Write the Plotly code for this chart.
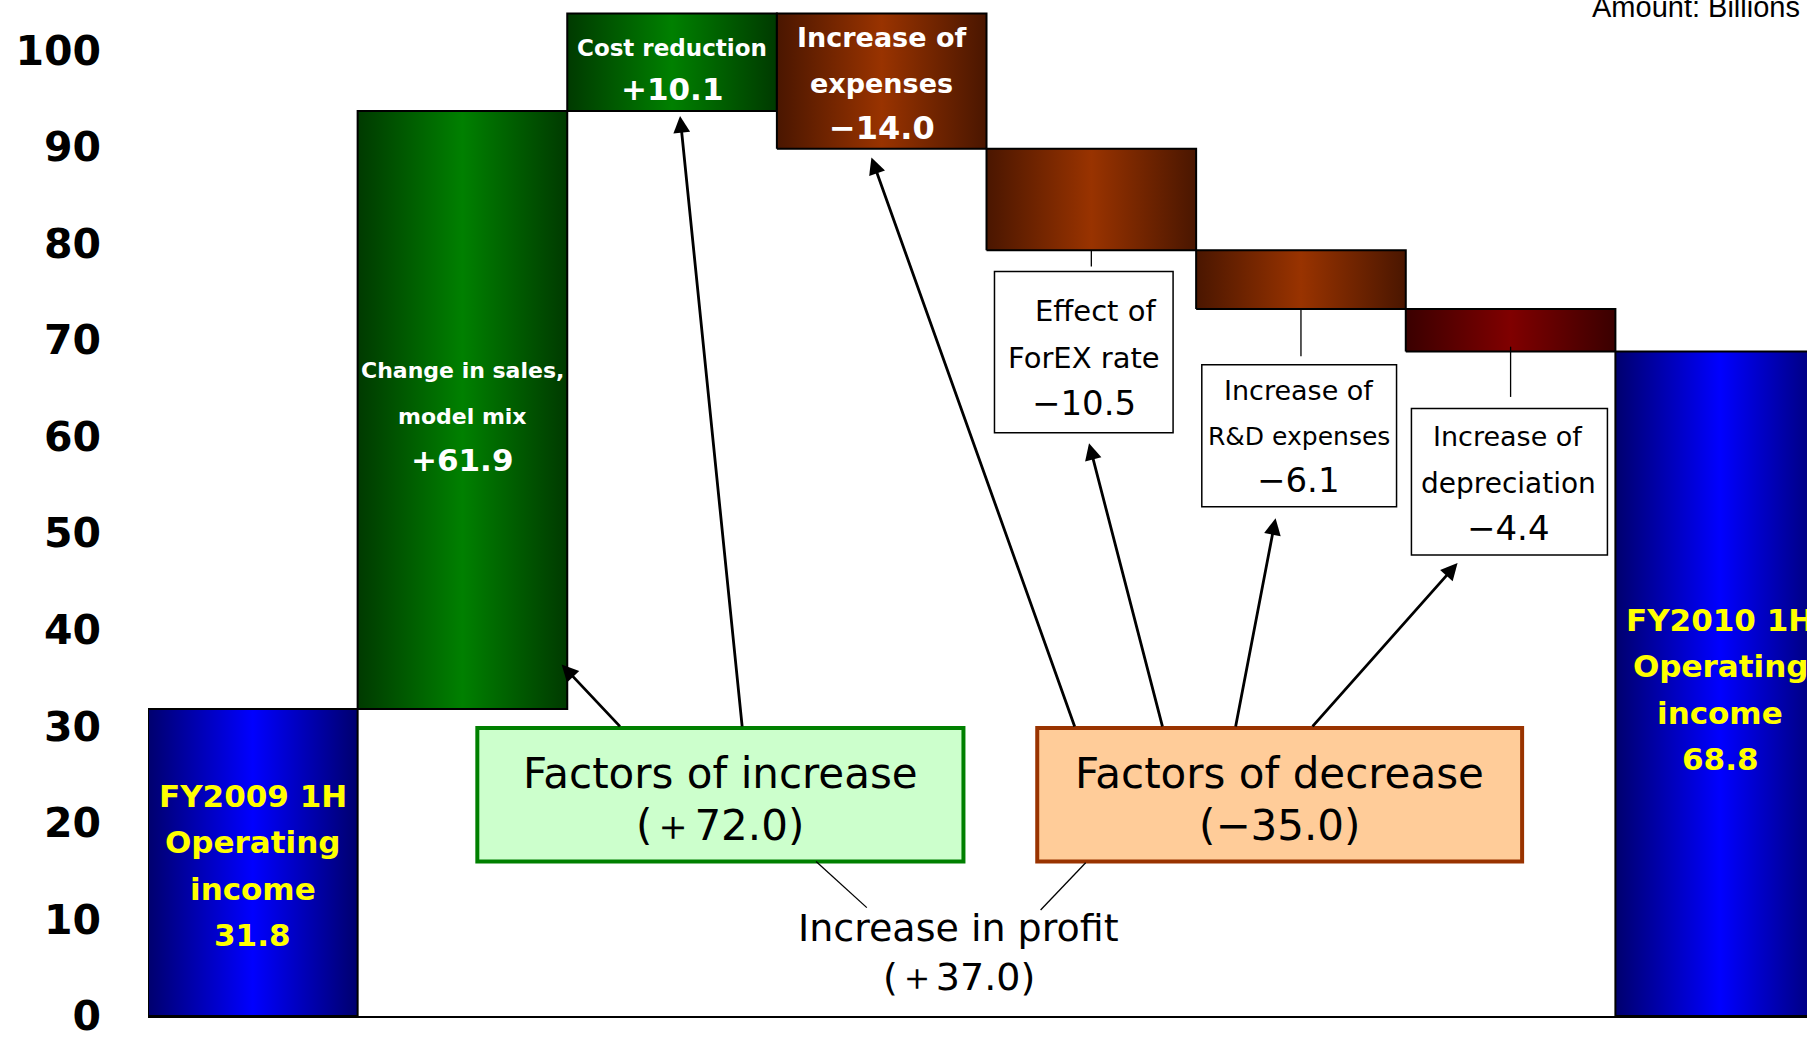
import plotly.graph_objects as go

# ---------------- data ----------------
categories = ["FY2009 1H", "Change in sales, model mix", "Cost reduction",
              "Increase of expenses", "Effect of ForEX rate",
              "Increase of R&D expenses", "Increase of depreciation", "FY2010 1H"]
start_value = 31.8
deltas = [61.9, 10.1, -14.0, -10.5, -6.1, -4.4]
end_value = 68.8
increase_total = 72.0
decrease_total = -35.0
profit_change = 37.0
y_ticks = [0, 10, 20, 30, 40, 50, 60, 70, 80, 90, 100]


def fmt(v):
    s = f"{v:+.1f}"
    return s.replace("-", "\u2212")


# waterfall geometry derived from data
bases, tops = [0.0], [start_value]
running = start_value
for d in deltas:
    nxt = running + d
    bases.append(min(running, nxt))
    tops.append(max(running, nxt))
    running = nxt
bases.append(0.0)
tops.append(end_value)

BLUE = [[0, "#00006e"], [0.5, "#0000ff"], [1, "#00006e"]]
GREEN = [[0, "#003a00"], [0.5, "#008000"], [1, "#003a00"]]
BROWN = [[0, "#4a1600"], [0.5, "#993300"], [1, "#4a1600"]]
DRED = [[0, "#3a0000"], [0.5, "#800000"], [1, "#3a0000"]]
scales = [BLUE, GREEN, GREEN, BROWN, BROWN, BROWN, DRED, BLUE]

fig = go.Figure()
for i, (b, t) in enumerate(zip(bases, tops)):
    fig.add_trace(go.Scatter(
        x=[i - 0.5, i + 0.5, i + 0.5, i - 0.5, i - 0.5],
        y=[b, b, t, t, b],
        mode="lines", fill="toself",
        fillgradient=dict(type="horizontal", colorscale=scales[i]),
        line=dict(color="black", width=2),
        name=categories[i], showlegend=False, hoverinfo="skip"))

FONT = "DejaVu Sans"
anns = []


def txt(x, y, text, size, color="black", bold=False, xref="x", yref="y", xanchor="center", yanchor="middle"):
    anns.append(dict(x=x, y=y, xref=xref, yref=yref, text=(f"<b>{text}</b>" if bold else text),
                     showarrow=False, xanchor=xanchor, yanchor=yanchor,
                     font=dict(family=FONT, size=size, color=color)))


# start / end bars
Y = "#ffff00"
for yy, t in [(22.79, "FY2009 1H"), (18.02, "Operating"), (13.13, "income"),
              (8.35, f"{start_value:.1f}")]:
    txt(0, yy, t, 31, Y, True)
for yy, t in [(41.05, "FY2010 1H"), (36.28, "Operating"), (31.38, "income"),
              (26.61, f"{end_value:.1f}")]:
    txt(7, yy, t, 31, Y, True)

# in-bar labels
W = "white"
txt(1, 66.83, "Change in sales,", 22, W, True)
txt(1, 62.05, "model mix", 22, W, True)
txt(1, 57.52, fmt(deltas[0]), 31, W, True)
txt(2, 100.24, "Cost reduction", 23, W, True)
txt(2, 95.94, fmt(deltas[1]), 31, W, True)
txt(3, 101.31, "Increase of", 27, W, True)
txt(3, 96.54, "expenses", 27, W, True)
txt(3, 91.95, fmt(deltas[2]), 32, W, True)

shapes = []


def rect(x0, x1, y0, y1, line, width, fill):
    shapes.append(dict(type="rect", xref="x", yref="y", x0=x0, x1=x1, y0=y0, y1=y1,
                       line=dict(color=line, width=width), fillcolor=fill, layer="above"))


def seg(x0, y0, x1, y1, width=1.3):
    shapes.append(dict(type="line", xref="x", yref="y", x0=x0, y0=y0, x1=x1, y1=y1,
                       line=dict(color="black", width=width), layer="above"))


# callout boxes for small decreases
rect(3.538, 4.390, 60.38, 77.09, "black", 1.5, "white")
rect(4.527, 5.456, 52.74, 67.42, "black", 1.5, "white")
rect(5.527, 6.462, 47.73, 62.89, "black", 1.5, "white")
seg(4.0, bases[4], 4.0, 77.6)
seg(5.0, bases[5], 5.0, 68.3)
seg(6.0, bases[6] + 0.5, 6.0, 64.1)

txt(4.02, 73.03, "Effect of", 29)
txt(3.964, 68.14, "ForEX rate", 29)
txt(3.964, 63.48, fmt(deltas[3]), 34)
txt(4.99, 64.80, "Increase of", 27)
txt(4.99, 60.02, "R&D expenses", 25)
txt(4.99, 55.49, fmt(deltas[4]), 34)
txt(5.99, 60.02, "Increase of", 27)
txt(5.99, 55.13, "depreciation", 28)
txt(5.99, 50.48, fmt(deltas[5]), 34)

# factor boxes
rect(1.071, 3.390, 15.99, 29.83, "#008000", 4, "#ccffcc")
rect(3.742, 6.055, 15.99, 29.83, "#993300", 4, "#ffcc99")
txt(2.23, 25.06, "Factors of increase", 42)
txt(2.23, 19.69, f"(\uff0b{increase_total:.1f})", 42)
txt(4.90, 25.06, "Factors of decrease", 42)
txt(4.90, 19.69, f"(\u2212{abs(decrease_total):.1f})", 42)

seg(2.687, 15.99, 2.929, 11.22)
seg(3.973, 15.87, 3.758, 10.98)
txt(3.368, 9.07, "Increase in profit", 38)
txt(3.368, 4.06, f"(\uff0b{profit_change:.1f})", 38)

# arrows: (head x, head y, tail x, tail y)
arrows = [(1.473, 36.40, 1.758, 29.83), (2.038, 93.20, 2.335, 29.83),
          (2.951, 88.90, 3.923, 29.83), (3.989, 59.31, 4.341, 29.83),
          (4.879, 51.55, 4.687, 29.83), (5.747, 46.90, 5.049, 29.83)]
for hx, hy, tx, ty in arrows:
    anns.append(dict(x=hx, y=hy, ax=tx, ay=ty, xref="x", yref="y", axref="x", ayref="y",
                     text="", showarrow=True, arrowhead=2, arrowsize=1.2, arrowwidth=2.8,
                     arrowcolor="black", standoff=0, startstandoff=0))

# unit note (partly outside the page, as in the original)
W_PLOT = 1807 - 147.5
H_PLOT = 1037 - 20.6
anns.append(dict(x=(1590 - 147.5) / W_PLOT, y=1 - 7 / H_PLOT, xref="paper", yref="paper",
                 text="Amount: Billions of yen",
                 showarrow=False, xanchor="left", yanchor="middle",
                 font=dict(family="Liberation Sans", size=29, color="black")))

fig.update_layout(
    width=1807, height=1037,
    margin=dict(l=147.5, r=0, t=0, b=20.6, pad=0),
    plot_bgcolor="white", paper_bgcolor="white",
    shapes=shapes, annotations=anns,
    xaxis=dict(range=[-0.5, 7.414], showgrid=False, zeroline=False, showticklabels=False,
               showline=True, linecolor="black", linewidth=2, ticks="", automargin=False,
               fixedrange=True),
    yaxis=dict(range=[0, 105.2], tickvals=y_ticks, showgrid=False, zeroline=False,
               showline=False, ticks="", ticklabelstandoff=46, automargin=False,
               ticklabeloverflow="allow",
               tickfont=dict(family="DejaVu Sans", size=41, color="black", weight="bold"),
               fixedrange=True),
    showlegend=False,
)

fig.write_html("out.html", config={"displayModeBar": False},
               post_script="document.body.style.margin='0';")
